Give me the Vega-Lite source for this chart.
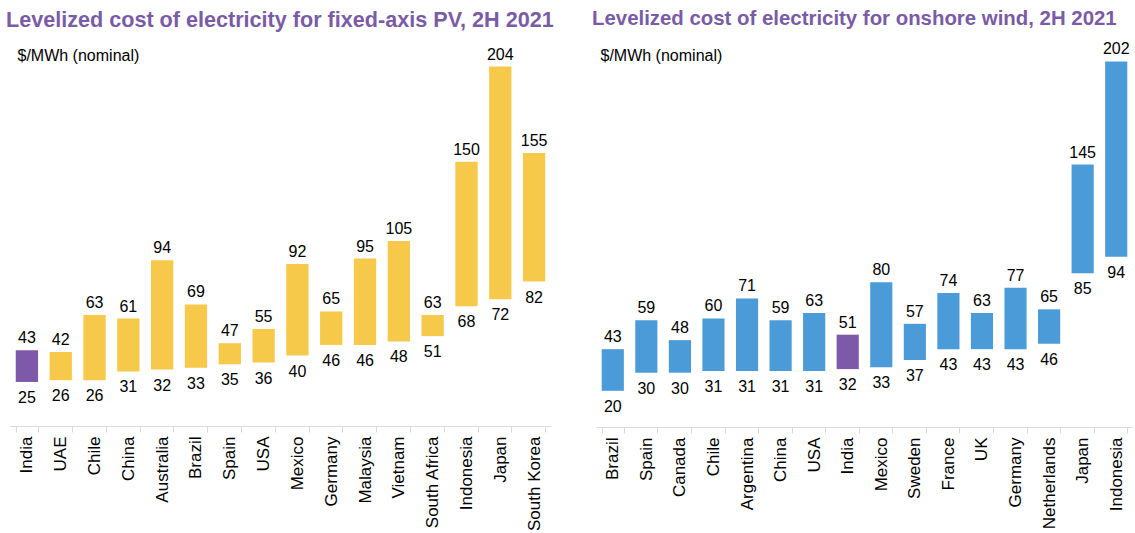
{
  "$schema": "https://vega.github.io/schema/vega-lite/v6.json",
  "padding": {"left": 1, "top": 8, "right": 0, "bottom": 0},
  "background": "white",
  "spacing": 45,
  "bounds": "flush",
  "config": {
    "font": "Liberation Sans",
    "view": {"stroke": null},
    "title": {"fontSize": 21.6, "fontWeight": "bold", "color": "#7A5BA6", "anchor": "start", "frame": "group", "dx": -4, "offset": 12, "font": "Liberation Sans"},
    "axisX": {"domainColor": "#d9d9d9", "tickColor": "#d9d9d9", "tickSize": 6, "tickBand": "extent", "labelAngle": -90, "labelAlign": "right", "labelBaseline": "middle", "labelFontSize": 17, "labelColor": "#000000", "labelPadding": 4, "title": null, "grid": false},
    "axisY": {"labels": false, "ticks": false, "domain": false, "grid": false, "minExtent": 0, "maxExtent": 0, "titleAngle": 0, "titleAlign": "left", "titleBaseline": "alphabetic", "titleY": 16, "titleFontSize": 16, "titleFontWeight": "normal", "titleColor": "#000000"}
  },
  "datasets": {
    "pv": [
      {"country": "India", "low": 25, "high": 43, "group": "India"},
      {"country": "UAE", "low": 26, "high": 42, "group": "PV"},
      {"country": "Chile", "low": 26, "high": 63, "group": "PV"},
      {"country": "China", "low": 31, "high": 61, "group": "PV"},
      {"country": "Australia", "low": 32, "high": 94, "group": "PV"},
      {"country": "Brazil", "low": 33, "high": 69, "group": "PV"},
      {"country": "Spain", "low": 35, "high": 47, "group": "PV"},
      {"country": "USA", "low": 36, "high": 55, "group": "PV"},
      {"country": "Mexico", "low": 40, "high": 92, "group": "PV"},
      {"country": "Germany", "low": 46, "high": 65, "group": "PV"},
      {"country": "Malaysia", "low": 46, "high": 95, "group": "PV"},
      {"country": "Vietnam", "low": 48, "high": 105, "group": "PV"},
      {"country": "South Africa", "low": 51, "high": 63, "group": "PV"},
      {"country": "Indonesia", "low": 68, "high": 150, "group": "PV"},
      {"country": "Japan", "low": 72, "high": 204, "group": "PV"},
      {"country": "South Korea", "low": 82, "high": 155, "group": "PV"}
    ],
    "wind": [
      {"country": "Brazil", "low": 20, "high": 43, "group": "Wind"},
      {"country": "Spain", "low": 30, "high": 59, "group": "Wind"},
      {"country": "Canada", "low": 30, "high": 48, "group": "Wind"},
      {"country": "Chile", "low": 31, "high": 60, "group": "Wind"},
      {"country": "Argentina", "low": 31, "high": 71, "group": "Wind"},
      {"country": "China", "low": 31, "high": 59, "group": "Wind"},
      {"country": "USA", "low": 31, "high": 63, "group": "Wind"},
      {"country": "India", "low": 32, "high": 51, "group": "India"},
      {"country": "Mexico", "low": 33, "high": 80, "group": "Wind"},
      {"country": "Sweden", "low": 37, "high": 57, "group": "Wind"},
      {"country": "France", "low": 43, "high": 74, "group": "Wind"},
      {"country": "UK", "low": 43, "high": 63, "group": "Wind"},
      {"country": "Germany", "low": 43, "high": 77, "group": "Wind"},
      {"country": "Netherlands", "low": 46, "high": 65, "group": "Wind"},
      {"country": "Japan", "low": 85, "high": 145, "group": "Wind"},
      {"country": "Indonesia", "low": 94, "high": 202, "group": "Wind"}
    ]
  },
  "hconcat": [
    {
      "data": {"name": "pv"},
      "width": 541,
      "height": 382,
      "title": {"text": "Levelized cost of electricity for fixed-axis PV, 2H 2021", "fontSize": 21.6},
      "encoding": {
        "x": {"field": "country", "type": "nominal", "sort": null, "scale": {"paddingInner": 0.34, "paddingOuter": 0.17}}
      },
      "layer": [
        {
          "mark": {"type": "bar"},
          "encoding": {
            "y": {"field": "low", "type": "quantitative", "scale": {"domain": [0, 216.8], "nice": false, "zero": true}, "title": "$/MWh (nominal)", "axis": {"titleX": 7}},
            "y2": {"field": "high"},
            "color": {"field": "group", "type": "nominal", "scale": {"domain": ["PV", "Wind", "India"], "range": ["#F6C94B", "#4A9BD7", "#7E59A9"]}, "legend": null}
          }
        },
        {
          "mark": {"type": "text", "baseline": "alphabetic", "dy": -7, "fontSize": 16, "color": "#000000"},
          "encoding": {"y": {"field": "high", "type": "quantitative", "title": "$/MWh (nominal)"}, "text": {"field": "high", "type": "quantitative"}}
        },
        {
          "mark": {"type": "text", "baseline": "alphabetic", "dy": 21, "fontSize": 16, "color": "#000000"},
          "encoding": {"y": {"field": "low", "type": "quantitative", "title": "$/MWh (nominal)"}, "text": {"field": "low", "type": "quantitative"}}
        }
      ]
    },
    {
      "data": {"name": "wind"},
      "width": 537,
      "height": 383,
      "title": {"text": "Levelized cost of electricity for onshore wind, 2H 2021", "fontSize": 20.4},
      "encoding": {
        "x": {"field": "country", "type": "nominal", "sort": null, "scale": {"paddingInner": 0.34, "paddingOuter": 0.17}}
      },
      "layer": [
        {
          "mark": {"type": "bar"},
          "encoding": {
            "y": {"field": "low", "type": "quantitative", "scale": {"domain": [0, 211.6], "nice": false, "zero": true}, "title": "$/MWh (nominal)", "axis": {"titleX": 4}},
            "y2": {"field": "high"},
            "color": {"field": "group", "type": "nominal", "scale": {"domain": ["PV", "Wind", "India"], "range": ["#F6C94B", "#4A9BD7", "#7E59A9"]}, "legend": null}
          }
        },
        {
          "mark": {"type": "text", "baseline": "alphabetic", "dy": -7, "fontSize": 16, "color": "#000000"},
          "encoding": {"y": {"field": "high", "type": "quantitative", "title": "$/MWh (nominal)"}, "text": {"field": "high", "type": "quantitative"}}
        },
        {
          "mark": {"type": "text", "baseline": "alphabetic", "dy": 21, "fontSize": 16, "color": "#000000"},
          "encoding": {"y": {"field": "low", "type": "quantitative", "title": "$/MWh (nominal)"}, "text": {"field": "low", "type": "quantitative"}}
        }
      ]
    }
  ],
  "resolve": {"scale": {"x": "independent", "y": "independent"}}
}
